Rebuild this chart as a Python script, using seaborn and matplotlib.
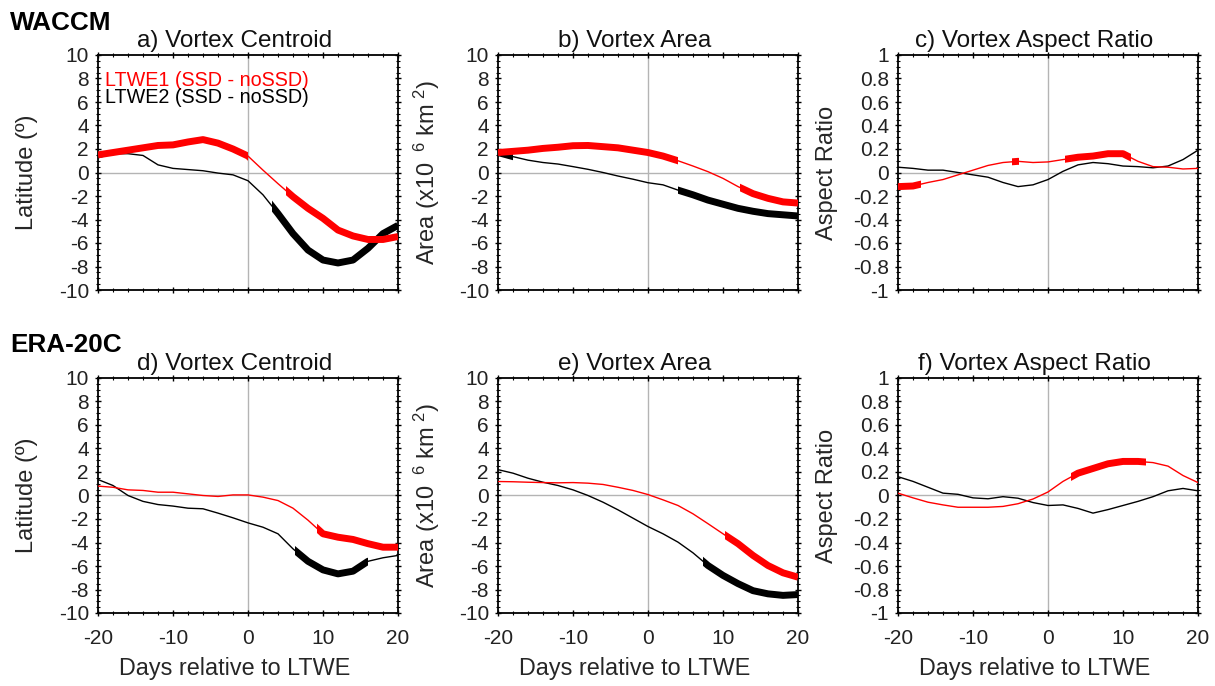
import numpy as np
import pandas as pd
import matplotlib
matplotlib.use("Agg")
import matplotlib.pyplot as plt
from matplotlib.patches import Rectangle
from matplotlib.ticker import MultipleLocator
import seaborn as sns

# ---------------- data ----------------
days = [-20, -18, -16, -14, -12, -10, -8, -6, -4, -2, 0, 2, 4, 6, 8, 10, 12, 14, 16, 18, 20]

a_red = [1.5, 1.7, 1.9, 2.1, 2.3, 2.35, 2.6, 2.8, 2.5, 2.0, 1.4, 0.2, -0.95, -2.06, -3.05, -3.9, -4.9, -5.4, -5.7, -5.7, -5.45]
a_black = [1.25, 1.6, 1.6, 1.45, 0.65, 0.35, 0.25, 0.15, -0.05, -0.2, -0.7, -1.9, -3.5, -5.2, -6.6, -7.45, -7.7, -7.45, -6.45, -5.2, -4.5]

b_red = [1.7, 1.8, 1.9, 2.05, 2.15, 2.28, 2.3, 2.2, 2.1, 1.9, 1.7, 1.4, 1.0, 0.55, 0.07, -0.5, -1.2, -1.8, -2.2, -2.5, -2.6]
b_black = [1.7, 1.35, 1.05, 0.85, 0.72, 0.5, 0.27, 0.0, -0.3, -0.57, -0.87, -1.05, -1.5, -1.9, -2.35, -2.7, -3.05, -3.3, -3.5, -3.6, -3.7]

c_red = [-0.12, -0.115, -0.085, -0.06, -0.02, 0.02, 0.06, 0.085, 0.095, 0.085, 0.09, 0.11, 0.13, 0.14, 0.16, 0.16, 0.095, 0.05, 0.045, 0.03, 0.035]
c_black = [0.045, 0.035, 0.02, 0.02, 0.0, -0.02, -0.04, -0.085, -0.12, -0.105, -0.06, 0.01, 0.065, 0.085, 0.075, 0.055, 0.05, 0.04, 0.055, 0.11, 0.19]

d_red = [0.8, 0.7, 0.48, 0.43, 0.28, 0.28, 0.14, 0.0, -0.08, 0.05, 0.05, -0.14, -0.43, -1.08, -2.1, -3.26, -3.55, -3.74, -4.1, -4.4, -4.4]
d_black = [1.36, 0.85, 0.0, -0.5, -0.77, -0.9, -1.08, -1.13, -1.5, -1.9, -2.33, -2.7, -3.26, -4.54, -5.6, -6.33, -6.67, -6.44, -5.6, -5.3, -5.1]

e_red = [1.19, 1.17, 1.13, 1.1, 1.08, 1.1, 1.05, 0.94, 0.7, 0.43, 0.08, -0.37, -0.85, -1.56, -2.4, -3.26, -4.1, -5.1, -5.96, -6.58, -6.95]
e_black = [2.2, 1.9, 1.47, 1.13, 0.85, 0.48, 0.0, -0.57, -1.22, -1.93, -2.64, -3.26, -3.97, -4.88, -5.96, -6.8, -7.5, -8.1, -8.37, -8.5, -8.43]

f_red = [0.02, -0.02, -0.057, -0.08, -0.1, -0.1, -0.1, -0.093, -0.07, -0.03, 0.03, 0.12, 0.19, 0.23, 0.27, 0.29, 0.29, 0.28, 0.25, 0.17, 0.11]
f_black = [0.16, 0.12, 0.07, 0.02, 0.01, -0.02, -0.028, -0.01, -0.023, -0.06, -0.085, -0.08, -0.11, -0.15, -0.12, -0.085, -0.05, -0.01, 0.04, 0.06, 0.04]

# significant (thick) intervals, in days
a_red_sig = [(-20, 0), (5, 20)]
a_black_sig = [(3.2, 20)]
b_red_sig = [(-20, 4), (12.3, 20)]
b_black_sig = [(-20, -18), (4, 20)]
c_red_sig = [(-20, -17), (-4.8, -3.9), (2.2, 11)]
c_black_sig = []
d_red_sig = [(9.2, 20)]
d_black_sig = [(6.3, 16)]
e_red_sig = [(10.3, 20)]
e_black_sig = [(7.3, 20)]
f_red_sig = [(3, 13)]
f_black_sig = []

titles = ["a) Vortex Centroid", "b) Vortex Area", "c) Vortex Aspect Ratio",
          "d) Vortex Centroid", "e) Vortex Area", "f) Vortex Aspect Ratio"]
ylabels = ["Latitude (º)", "Area (x10$^{\\ \\ 6}$ km$^{\\ 2}$)", "Aspect Ratio"]
row_labels = ["WACCM", "ERA-20C"]
legend_labels = ["LTWE1 (SSD - noSSD)", "LTWE2 (SSD - noSSD)"]
xlabel = "Days relative to LTWE"

panels = [
    (a_red, a_black, a_red_sig, a_black_sig),
    (b_red, b_black, b_red_sig, b_black_sig),
    (c_red, c_black, c_red_sig, c_black_sig),
    (d_red, d_black, d_red_sig, d_black_sig),
    (e_red, e_black, e_red_sig, e_black_sig),
    (f_red, f_black, f_red_sig, f_black_sig),
]

# ---------------- style ----------------
sns.set_theme(style="white")
plt.rcParams["font.family"] = ["Liberation Sans", "DejaVu Sans"]
plt.rcParams["mathtext.default"] = "regular"
plt.rcParams["axes.unicode_minus"] = False
plt.rcParams["text.color"] = "#222222"

W, H = 1215, 686
fig = plt.figure(figsize=(W / 100, H / 100), dpi=100)
fig.patch.set_facecolor("white")

col_left = [98, 498, 898]
row_top = [55, 378]
aw, ah = 300, 235

RED = "#ff0000"
BLK = "#000000"


def fmt(v):
    v = round(float(v), 1)
    if abs(v) < 1e-9:
        return "0"
    return "%g" % v


for i, (red, blk, rsig, bsig) in enumerate(panels):
    r, c = divmod(i, 3)
    left = col_left[c] / W
    bottom = 1 - (row_top[r] + ah) / H
    ax = fig.add_axes([left, bottom, aw / W, ah / H])
    ax.set_facecolor("white")

    if c == 2:
        ylim = (-1, 1)
        ymaj, ymin_ = 0.2, 0.05
    else:
        ylim = (-10, 10)
        ymaj, ymin_ = 2, 0.5

    ax.axhline(0, color="#b4b4b4", lw=1.0, zorder=0)
    ax.axvline(0, color="#b4b4b4", lw=1.0, zorder=0)

    df = pd.DataFrame({"day": days, "LTWE1": red, "LTWE2": blk})

    # thin full lines
    for col, colr in (("LTWE2", BLK), ("LTWE1", RED)):
        sns.lineplot(data=df, x="day", y=col, ax=ax, color=colr, lw=1.0,
                     errorbar=None, legend=False, zorder=3)
    # thick significant segments (clipped to intervals)
    for col, colr, sig in (("LTWE2", BLK, bsig), ("LTWE1", RED, rsig)):
        for (x0, x1) in sig:
            sns.lineplot(data=df, x="day", y=col, ax=ax, color=colr, lw=5.0,
                         errorbar=None, legend=False, zorder=4)
            ln = ax.lines[-1]
            ln.set_solid_capstyle("butt")
            ln.set_solid_joinstyle("round")
            rect = Rectangle((x0, ylim[0] - 5), x1 - x0, (ylim[1] - ylim[0]) + 10,
                             transform=ax.transData)
            ln.set_clip_path(rect)

    ax.set_xlim(-20, 20)
    ax.set_ylim(*ylim)
    ax.xaxis.set_major_locator(MultipleLocator(10))
    ax.xaxis.set_minor_locator(MultipleLocator(2))
    ax.yaxis.set_major_locator(MultipleLocator(ymaj))
    ax.yaxis.set_minor_locator(MultipleLocator(ymin_))
    if c == 2:
        yt = np.round(np.arange(-1, 1.01, 0.2), 1)
        ax.set_yticks(yt)
        ax.set_yticklabels([fmt(v) for v in yt])

    ax.tick_params(which="both", direction="inout", top=True, right=True,
                   bottom=True, left=True, colors="#000000", labelcolor="#222222")
    ax.tick_params(which="major", length=5, width=1.0, labelsize=15)
    ax.tick_params(which="minor", length=3, width=0.8)
    ax.tick_params(axis="x", which="major", pad=9)
    ax.tick_params(axis="y", which="major", pad=4)
    for s in ax.spines.values():
        s.set_visible(True)
        s.set_color("#000000")
        s.set_linewidth(1.3)

    if r == 0:
        ax.set_xticklabels([])
    ax.set_xlabel("")
    ax.set_ylabel(ylabels[c], fontsize=17, va="center")
    ax.yaxis.set_label_coords(-71 / aw, 0.5)

    if r == 1:
        ax.set_xlabel(xlabel, fontsize=16.8, va="baseline")
        ax.xaxis.set_label_coords(0.455, -(675 - 613) / ah)

    ax.text(0.455, 1 + 8 / ah, titles[i], transform=ax.transAxes,
            ha="center", va="baseline", fontsize=17.5, color="#111111")

    if i == 0:
        ax.text(7 / aw, (290 - 86) / ah, legend_labels[0], transform=ax.transAxes,
                color=RED, fontsize=14.2, ha="left", va="baseline")
        ax.text(7 / aw, (290 - 103) / ah, legend_labels[1], transform=ax.transAxes,
                color=BLK, fontsize=14.2, ha="left", va="baseline")

fig.text(10 / W, 1 - 30 / H, row_labels[0], fontsize=18.8, fontweight="bold",
         ha="left", va="baseline", color="#000000")
fig.text(10 / W, 1 - 352 / H, row_labels[1], fontsize=18.8, fontweight="bold",
         ha="left", va="baseline", color="#000000")

fig.savefig("out.png", dpi=100, facecolor="white")
